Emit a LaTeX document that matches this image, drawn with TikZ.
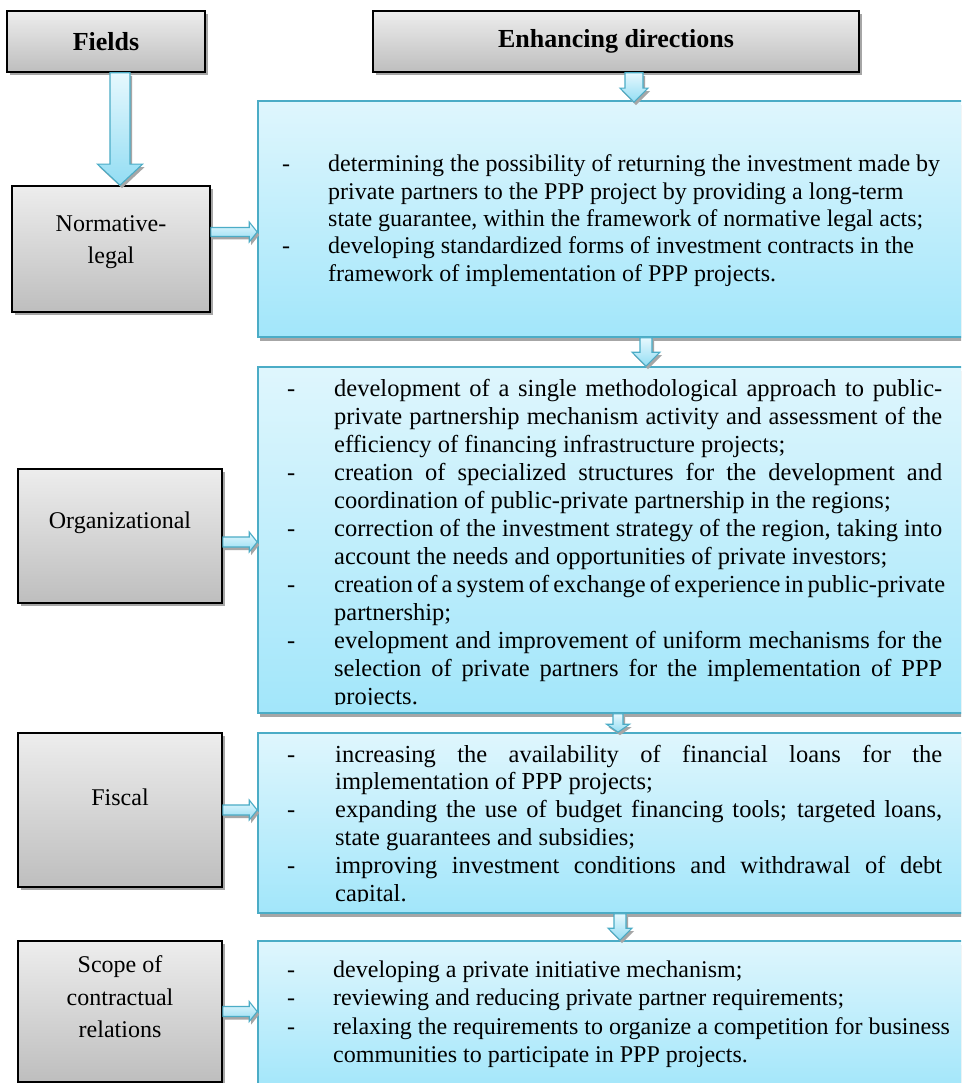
\documentclass[tikz,border=0pt]{standalone}
\usepackage{fontspec}
\setmainfont{Liberation Serif}
\usetikzlibrary{shadows,calc}
\definecolor{bord}{HTML}{4BACC6}
\definecolor{btop}{HTML}{DFF6FD}
\definecolor{bbot}{HTML}{A2E6FA}
\definecolor{gtop}{HTML}{EDEDED}
\definecolor{gbot}{HTML}{BEBEBE}
\definecolor{shd}{HTML}{A6A6A6}
\definecolor{atop}{HTML}{E6F8FE}
\definecolor{abot}{HTML}{93DDF3}
\newlength\hangw
\newlength\justw
\newcommand\itJ[1]{\makebox[\hangw][l]{-}\makebox[\justw][s]{#1}}
\newcommand\itN[1]{\makebox[\hangw][l]{-}#1}
\newcommand\coJ[1]{\hspace*{\hangw}\makebox[\justw][s]{#1}}
\newcommand\coN[1]{\hspace*{\hangw}#1}
\newcommand\darr[5]{\path[blkarrow] ($(#1)+(-#3,0)$) -- ($(#1)+(#3,0)$) -- ($(#2)+(#3,-#5)$) -- ($(#2)+(#4,-#5)$) -- (#2) -- ($(#2)+(-#4,-#5)$) -- ($(#2)+(-#3,-#5)$) -- cycle;}
\newcommand\rarr[5]{\path[blkarrow] ($(#1)+(0,-#3)$) -- ($(#2)+(-#5,-#3)$) -- ($(#2)+(-#5,-#4)$) -- (#2) -- ($(#2)+(-#5,#4)$) -- ($(#2)+(-#5,#3)$) -- ($(#1)+(0,#3)$) -- cycle;}
\tikzset{
  greybox/.style={draw=black, line width=1.6pt, top color=gtop, bottom color=gbot, inner sep=0pt,
    drop shadow={shadow xshift=3pt, shadow yshift=-3pt, fill=shd, opacity=1}},
  bluebox/.style={draw=bord, line width=1.6pt, top color=btop, bottom color=bbot, inner sep=0pt,
    drop shadow={shadow xshift=2pt, shadow yshift=-4pt, fill=shd, opacity=1}},
  blkarrow/.style={draw=bord, line width=1.1pt, top color=atop, bottom color=abot,
    drop shadow={shadow xshift=2pt, shadow yshift=-3pt, fill=shd, opacity=1}},
  headtext/.style={font=\bfseries\fontsize{26}{30}\selectfont},
  sidetext/.style={align=center, inner sep=0pt, font=\fontsize{24}{32.5}\selectfont},
  bodytext/.style={inner sep=0pt, anchor=base west},
}
\begin{document}
\begin{tikzpicture}[x=1pt,y=-1pt]
\useasboundingbox (0,0) rectangle (961,1083);
\clip (0,0) rectangle (961,1083);
\fill[white] (0,0) rectangle (961,1083);
% headers
\node[greybox, minimum width=198pt, minimum height=61pt, headtext] (fields) at (106,41.5) {Fields};
\node[greybox, minimum width=486pt, minimum height=61pt, headtext] (enh) at (616,41.5) {Enhancing directions};
% field boxes
\node[greybox, minimum width=198pt, minimum height=126pt] (norm) at (111,249) {};
\node[greybox, minimum width=204pt, minimum height=134pt] (org) at (120,536) {};
\node[greybox, minimum width=204pt, minimum height=154pt] (fiscal) at (120,810) {};
\node[greybox, minimum width=204pt, minimum height=141pt] (scope) at (120,1011.5) {};
\node[sidetext] (normt) at (111,242) {Normative-\\legal};
\node[sidetext] (orgt) at (120,523) {Organizational};
\node[sidetext] (fiscalt) at (120,797) {Fiscal};
\node[sidetext] (scopet) at (120,997) {Scope of\\contractual\\relations};
% direction boxes
\node[bluebox, minimum width=714pt, minimum height=236pt] (b1) at (615,219) {};
\node[bluebox, minimum width=714pt, minimum height=346pt] (b2) at (615,540) {};
\node[bluebox, minimum width=714pt, minimum height=180pt] (b3) at (615,823) {};
\node[bluebox, minimum width=714pt, minimum height=150pt] (b4) at (615,1016) {};
% text of box 1
\setlength\hangw{46pt}
\node[bodytext] (t1) at (282,172) {\parbox[t]{680pt}{\raggedright\fontsize{24}{27.3}\selectfont
\itN{determining the possibility of returning the investment made by}\\
\coN{private partners to the PPP project by providing a long-term}\\
\coN{state guarantee, within the framework of normative legal acts;}\\
\itN{developing standardized forms of investment contracts in the}\\
\coN{framework of implementation of PPP projects.}}};
% text of box 2
\begin{scope}
\clip ($(b2.north west)+(1,1)$) rectangle ($(b2.south east)+(-1,-9)$);
\setlength\hangw{47pt}\setlength\justw{608pt}
\node[bodytext] (t2) at (287,396.4) {\parbox[t]{680pt}{\raggedright\fontsize{24.5}{28}\selectfont
\itJ{development of a single methodological approach to public-}\\
\coJ{private partnership mechanism activity and assessment of the}\\
\coN{efficiency of financing infrastructure projects;}\\
\itJ{creation of specialized structures for the development and}\\
\coN{coordination of public-private partnership in the regions;}\\
\itJ{correction of the investment strategy of the region, taking into}\\
\coN{account the needs and opportunities of private investors;}\\
\itJ{creation of a system of exchange of experience in public-private}\\
\coN{partnership;}\\
\itJ{evelopment and improvement of uniform mechanisms for the}\\
\coJ{selection of private partners for the implementation of PPP}\\
\coN{projects.}}};
\end{scope}
% text of box 3
\begin{scope}
\clip ($(b3.north west)+(1,1)$) rectangle ($(b3.south east)+(-1,-12)$);
\setlength\hangw{48pt}\setlength\justw{607pt}
\node[bodytext] (t3) at (287,762) {\parbox[t]{680pt}{\raggedright\fontsize{24.5}{27.8}\selectfont
\itJ{increasing the availability of financial loans for the}\\
\coN{implementation of PPP projects;}\\
\itJ{expanding the use of budget financing tools; targeted loans,}\\
\coN{state guarantees and subsidies;}\\
\itJ{improving investment conditions and withdrawal of debt}\\
\coN{capital.}}};
\end{scope}
% text of box 4
\setlength\hangw{46pt}
\node[bodytext] (t4) at (287,977.5) {\parbox[t]{680pt}{\raggedright\fontsize{24}{28.3}\selectfont
\itN{developing a private initiative mechanism;}\\
\itN{reviewing and reducing private partner requirements;}\\
\itN{relaxing the requirements to organize a competition for business}\\
\coN{communities to participate in PPP projects.}}};
% vertical block arrows
\coordinate (a1s) at ($(fields.south)+(14,0)$);
\coordinate (a1e) at (a1s |- norm.north);
\darr{a1s}{a1e}{10}{22.5}{21}
\coordinate (a2s) at ($(enh.south)+(18,0)$);
\coordinate (a2e) at ($(a2s |- b1.north)+(0,2)$);
\darr{a2s}{a2e}{9}{14}{14}
\coordinate (a3s) at ($(b1.south)+(31,0)$);
\coordinate (a3e) at (a3s |- b2.north);
\darr{a3s}{a3e}{6}{14}{14}
\coordinate (a4s) at ($(b2.south)+(3,0)$);
\coordinate (a4e) at (a4s |- b3.north);
\darr{a4s}{a4e}{5}{11.5}{8}
\coordinate (a5s) at ($(b3.south)+(5,0)$);
\coordinate (a5e) at (a5s |- b4.north);
\darr{a5s}{a5e}{6}{12}{12}
% horizontal block arrows
\coordinate (h1s) at ($(norm.east)+(0,-17)$);
\coordinate (h1e) at (h1s -| b1.west);
\rarr{h1s}{h1e}{4.5}{10}{8}
\coordinate (h2s) at ($(org.east)+(0,6)$);
\coordinate (h2e) at (h2s -| b2.west);
\rarr{h2s}{h2e}{5}{10}{8}
\coordinate (h3s) at (fiscal.east);
\coordinate (h3e) at (h3s -| b3.west);
\rarr{h3s}{h3e}{5}{10}{8}
\coordinate (h4s) at (scope.east);
\coordinate (h4e) at (h4s -| b4.west);
\rarr{h4s}{h4e}{5}{10}{8}
\end{tikzpicture}
\end{document}
